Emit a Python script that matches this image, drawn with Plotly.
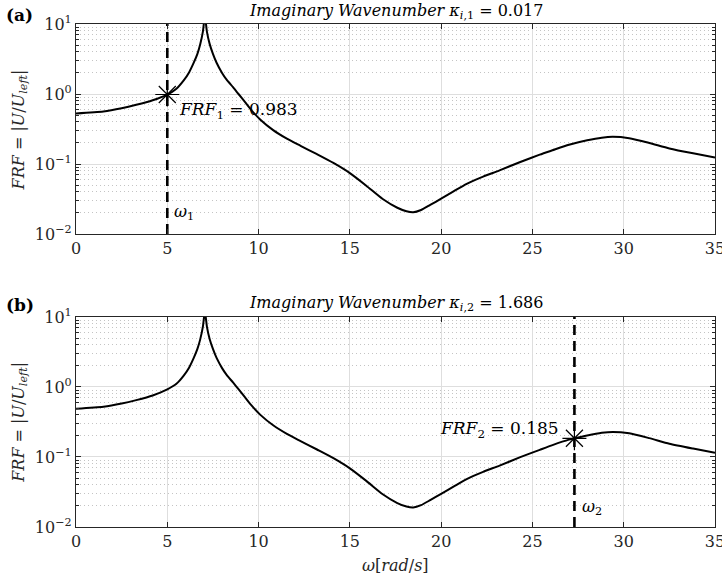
import math
import plotly.graph_objects as go
from plotly.subplots import make_subplots

# Frequency response |U/U_left| versus angular frequency, two wavenumber cases
omega_a = [0, 1.5, 2.5, 3.3, 4.2, 5.0, 5.5, 5.9, 6.2, 6.45, 6.65, 6.8, 6.95, 7.06,
           7.17, 7.32, 7.5, 7.7, 8.0, 8.25, 8.6, 8.9, 9.25, 9.6, 10.1, 10.8, 11.55, 12.3,
           13.2, 14.1, 15.0, 15.9, 16.8, 17.6, 18.1, 18.47, 18.9, 19.4, 20.0, 20.7, 21.4,
           22.3, 23.2, 24.3, 25.4, 26.1, 27.0, 28.0, 28.8, 29.4, 30.3, 31.4, 32.5,
           33.8, 35.0]
frf_a = [0.528, 0.563, 0.625, 0.70, 0.815, 0.983, 1.19, 1.56, 2.05, 2.8, 3.75, 5.1, 7.8, 13.0,
         7.8, 5.2, 3.75, 2.8, 2.0, 1.60, 1.25, 1.0, 0.77, 0.59, 0.43, 0.305, 0.23, 0.182,
         0.138, 0.1035, 0.0741, 0.049, 0.0316, 0.0237, 0.0211, 0.0204, 0.022, 0.026, 0.032,
         0.041, 0.052, 0.066, 0.081, 0.106, 0.136, 0.157, 0.188, 0.218, 0.238, 0.245, 0.234,
         0.20, 0.167, 0.142, 0.124]

omega_b = [0, 1.5, 2.5, 3.3, 4.2, 5.0, 5.5, 5.9, 6.2, 6.45, 6.65, 6.8, 6.95, 7.06,
           7.17, 7.32, 7.5, 7.7, 8.0, 8.25, 8.6, 8.9, 9.25, 9.6, 10.1, 10.8, 11.55, 12.3,
           13.2, 14.1, 15.0, 15.9, 16.8, 17.6, 18.1, 18.47, 18.9, 19.4, 20.0, 20.7, 21.4,
           22.3, 23.2, 24.3, 25.4, 26.1, 27.0, 27.3, 28.0, 28.8, 29.4, 30.3, 31.4, 32.5,
           33.8, 35.0]
frf_b = [0.49, 0.523, 0.58, 0.65, 0.757, 0.925, 1.11, 1.45, 1.9, 2.6, 3.5, 4.75, 7.3, 12.0,
         7.3, 4.85, 3.5, 2.6, 1.86, 1.49, 1.16, 0.93, 0.715, 0.55, 0.40, 0.284, 0.214, 0.169,
         0.128, 0.0963, 0.0689, 0.0456, 0.0294, 0.022, 0.0196, 0.019, 0.0205, 0.0242, 0.0298,
         0.0381, 0.0484, 0.0614, 0.0753, 0.0986, 0.1265, 0.148, 0.177, 0.185, 0.203, 0.2215,
         0.228, 0.218, 0.186, 0.155, 0.132, 0.115]

# Selected frequencies and their response values
omega_sel = [5.0, 27.3]
frf_sel = [0.983, 0.185]
kappa_i = [0.017, 1.686]
panel_tags = ["(a)", "(b)"]

x_ticks = [0, 5, 10, 15, 20, 25, 30, 35]
y_decades = [-2, -1, 0, 1]
minor_mantissa = [2, 3, 4, 5, 6, 7, 8, 9]

SERIF = "DejaVu Serif"
AX_COLOR = "#262626"
GRID_MAJOR = "#dedede"
GRID_MINOR = "#c4c4c4"

fig = make_subplots(rows=2, cols=1)

curves = [(omega_a, frf_a), (omega_b, frf_b)]
for i, (w, f) in enumerate(curves):
    row = i + 1
    fig.add_trace(go.Scatter(x=w, y=f, mode="lines",
                             line=dict(color="black", width=2, shape="spline", smoothing=0.6),
                             showlegend=False, hoverinfo="skip"), row=row, col=1)
    # dashed marker line at the selected frequency, spanning the whole y range
    fig.add_trace(go.Scatter(x=[omega_sel[i], omega_sel[i]],
                             y=[10 ** y_decades[0], 10 ** y_decades[-1]],
                             mode="lines",
                             line=dict(color="black", width=2.6, dash="10px,6px"),
                             showlegend=False, hoverinfo="skip"), row=row, col=1)
    fig.add_trace(go.Scatter(x=[omega_sel[i]], y=[frf_sel[i]], mode="markers",
                             marker=dict(symbol="asterisk-open", size=20, color="black",
                                         line=dict(color="black", width=1.2)),
                             showlegend=False, hoverinfo="skip"), row=row, col=1)

minor_vals = [m * 10 ** d for d in y_decades[:-1] for m in minor_mantissa]
y_text = ["10<sup>%s</sup>" % (str(d).replace("-", "\u2212")) for d in y_decades]

axis_common = dict(showline=True, linecolor=AX_COLOR, linewidth=1.2, mirror="allticks",
                   ticks="inside", tickcolor=AX_COLOR, ticklabeloverflow="allow",
                   automargin=False,
                   tickfont=dict(family=SERIF, size=16, color="#262626"),
                   zeroline=False, gridcolor=GRID_MAJOR, gridwidth=1)

for r in (1, 2):
    fig.update_xaxes(range=[0, 35.0001], tickvals=x_ticks, ticklen=5, **axis_common,
                     row=r, col=1)
    fig.update_yaxes(type="log", range=[-2, 1], tickvals=[10 ** d for d in y_decades],
                     ticktext=y_text, ticklen=5,
                     minor=dict(tickvals=minor_vals, ticks="inside", ticklen=3,
                                tickcolor=AX_COLOR, showgrid=True, gridcolor=GRID_MINOR,
                                griddash="1px,3px", gridwidth=1),
                     **axis_common, row=r, col=1)

fig.update_layout(
    width=722, height=582,
    margin=dict(l=76, r=7, t=24, b=55, autoexpand=False),
    plot_bgcolor="white", paper_bgcolor="white",
    font=dict(family=SERIF, color="#262626"),
)
fig.update_layout(yaxis=dict(domain=[0.5825, 1.0]), yaxis2=dict(domain=[0.0, 0.4175]),
                  xaxis=dict(domain=[0, 1]), xaxis2=dict(domain=[0, 1]))

title_y = [1.024, 0.445]
tag_y = [1.018, 0.441]
ylabel_y = [0.79, 0.2088]
for i in range(2):
    fig.add_annotation(xref="paper", yref="paper", x=0.5, y=title_y[i],
                       text="<i>Imaginary Wavenumber \u03ba</i><sub><i>i</i>,%d</sub> = %.3f"
                            % (i + 1, kappa_i[i]),
                       showarrow=False, xanchor="center", yanchor="middle",
                       font=dict(family=SERIF, size=16, color="black"))
    fig.add_annotation(xref="paper", yref="paper", x=-0.112, y=tag_y[i],
                       text="<b>%s</b>" % panel_tags[i], showarrow=False,
                       xanchor="left", yanchor="middle",
                       font=dict(family=SERIF, size=17, color="black"))
    fig.add_annotation(xref="paper", yref="paper", x=-0.088, y=ylabel_y[i],
                       text="<i>FRF</i> = |<i>U</i>/<i>U</i><sub><i>left</i></sub>|",
                       textangle=-90, showarrow=False, xanchor="center", yanchor="middle",
                       font=dict(family=SERIF, size=16, color="#262626"))

# value labels beside the selected points
fig.add_annotation(xref="x", yref="y", x=omega_sel[0], y=math.log10(frf_sel[0]),
                   text="<i>FRF</i><sub>1</sub> = %.3f" % frf_sel[0], showarrow=False,
                   xanchor="left", yanchor="middle", xshift=10, yshift=-16,
                   font=dict(family=SERIF, size=17, color="black"))
fig.add_annotation(xref="x2", yref="y2", x=omega_sel[1], y=math.log10(frf_sel[1]),
                   text="<i>FRF</i><sub>2</sub> = %.3f" % frf_sel[1], showarrow=False,
                   xanchor="right", yanchor="middle", xshift=-13, yshift=9,
                   font=dict(family=SERIF, size=17, color="black"))
fig.add_annotation(xref="x", yref="y", x=omega_sel[0], y=math.log10(0.02),
                   text="<i>\u03c9</i><sub>1</sub>", showarrow=False,
                   xanchor="left", yanchor="middle", xshift=5,
                   font=dict(family=SERIF, size=16, color="black"))
fig.add_annotation(xref="x2", yref="y2", x=omega_sel[1], y=math.log10(0.019),
                   text="<i>\u03c9</i><sub>2</sub>", showarrow=False,
                   xanchor="left", yanchor="middle", xshift=6,
                   font=dict(family=SERIF, size=16, color="black"))
fig.add_annotation(xref="paper", yref="paper", x=0.5, y=-0.076,
                   text="<i>\u03c9</i>[<i>rad</i>/<i>s</i>]", showarrow=False,
                   xanchor="center", yanchor="middle",
                   font=dict(family=SERIF, size=16, color="#262626"))

fig.write_html("out.html")
